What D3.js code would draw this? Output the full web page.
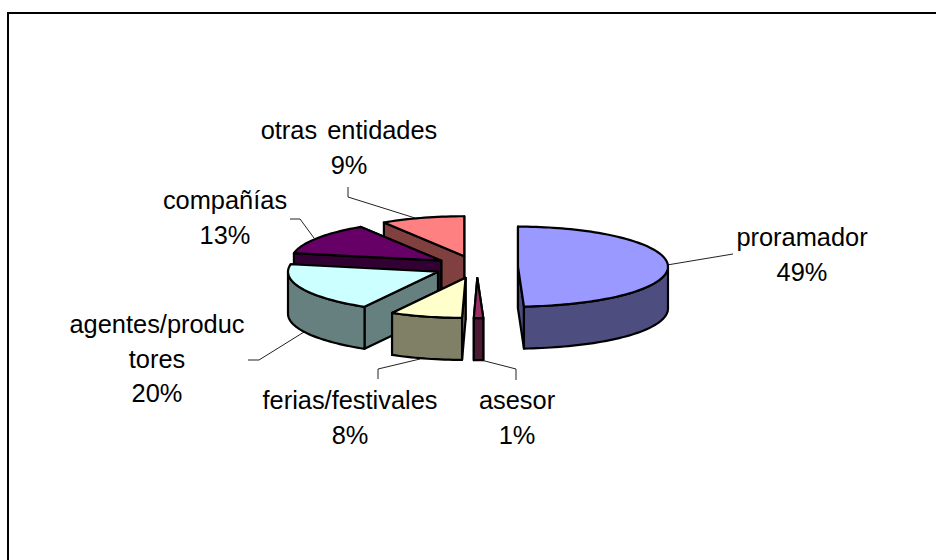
<!DOCTYPE html>
<html><head><meta charset="utf-8">
<style>html,body{margin:0;padding:0;background:#fff}svg{display:block}</style>
<script src="https://cdn.jsdelivr.net/npm/d3@7/dist/d3.min.js"></script>
</head><body><svg id="c" width="936" height="560"></svg>
<script>
const categories = ["proramador","asesor","ferias/festivales","agentes/productores","compañías","otras entidades"];
const values = [49,1,8,20,13,9];
const topColors = ["#9999FF","#993366","#FFFFCC","#CCFFFF","#660066","#FF8080"];
const sideColors = ["#4D4D80","#4D1A33","#808066","#668080","#330033","#804040"];
const labelLines = [["proramador","49%"],["asesor","1%"],["ferias/festivales","8%"],["agentes/produc","tores","20%"],["compañías","13%"],["otras entidades","9%"]];

const W=936,H=560;
const svg=d3.select("#c");
const cx=476, cy=267, rx=150, ry=40, depth=42, explode=0.28, skew=3.5;
// unit-disc to screen scales
const sx=d3.scaleLinear().domain([-1,1]).range([cx-rx,cx+rx]);
const sy=d3.scaleLinear().domain([-1,1]).range([cy-ry,cy+ry]);
const arcs=d3.pie().sort(null).value(d=>d)(values);

function centre(a){const m=(a.startAngle+a.endAngle)/2;return [explode*Math.sin(m),-explode*Math.cos(m)];}
function pt(a,ang,r=1,dz=0){
  const c=centre(a);
  const ux=c[0]+r*Math.sin(ang), uy=c[1]-r*Math.cos(ang);
  const sh=skew*Math.pow(Math.max(0,-r*Math.cos(ang)),8);
  return [sx(ux)-sh, sy(uy)+dz];
}
const line=d3.line();
function samples(a0,a1){const n=Math.max(2,Math.ceil((a1-a0)/0.03));return d3.range(n+1).map(i=>a0+(a1-a0)*i/n);}

// frame: top and left rules only, running to the window edges
svg.append("line").attr("x1",7).attr("x2",W).attr("y1",13).attr("y2",13).attr("stroke","#000").attr("stroke-width",2);
svg.append("line").attr("x1",8).attr("x2",8).attr("y1",12).attr("y2",H).attr("stroke","#000").attr("stroke-width",2);

const leaders=[
 {i:0,path:[[667,265],[733,254]]},
 {i:1,path:[[481,360],[516,369],[516,380]]},
 {i:2,path:[[420,359],[378,369],[378,379]]},
 {i:3,path:[[304,332],[259,360],[248,360]]},
 {i:4,path:[[314,238],[300,219],[290,219]]},
 {i:5,path:[[415,218],[348,197],[348,187]]}
];
svg.append("g").selectAll("path").data(leaders).join("path")
  .attr("d",d=>line(d.path)).attr("fill","none").attr("stroke","#222").attr("stroke-width",1);

// slices back to front
const order=d3.range(arcs.length).sort((p,q)=>{
  const f=a=>-Math.cos((a.startAngle+a.endAngle)/2);
  return f(arcs[p])-f(arcs[q]);
});
const g=svg.append("g").attr("stroke","#000").attr("stroke-width",2.2).attr("stroke-linejoin","round");
order.forEach(i=>{
  const a=arcs[i];
  const s=g.append("g");
  const ctr0=pt(a,0,0), ctr1=pt(a,0,0,depth);
  // radial walls: the one whose rim is further back goes first
  [a.startAngle,a.endAngle].sort((u,v)=>(-Math.cos(u))-(-Math.cos(v))).forEach(ang=>{
    s.append("path").attr("fill",sideColors[i])
     .attr("d",line([ctr0,pt(a,ang),pt(a,ang,1,depth),ctr1])+"Z");
  });
  const lo=Math.max(a.startAngle,Math.PI/2), hi=Math.min(a.endAngle,3*Math.PI/2);
  if(hi>lo){
    const ang=samples(lo,hi);
    const up=ang.map(t=>pt(a,t)), dn=ang.slice().reverse().map(t=>pt(a,t,1,depth));
    s.append("path").attr("fill",sideColors[i]).attr("d",line(up.concat(dn))+"Z");
  }
  const rim=samples(a.startAngle,a.endAngle).map(t=>pt(a,t));
  s.append("path").attr("fill",topColors[i]).attr("d",line([ctr0].concat(rim))+"Z");
});

// labels
const labelPos=[[802,246],[517,409],[350,409],[157,333],[225,209],[349,139]];
const lineStep=34.7;
const t=svg.append("g").attr("font-family","'Liberation Sans',Arial,sans-serif").attr("font-size",25.4).attr("fill","#000").attr("text-anchor","middle");
labelLines.forEach((ls,i)=>{
  ls.forEach((s,j)=>{
    t.append("text").attr("x",labelPos[i][0]).attr("y",labelPos[i][1]+j*lineStep).attr("word-spacing",3).text(s);
  });
});
</script></body></html>
